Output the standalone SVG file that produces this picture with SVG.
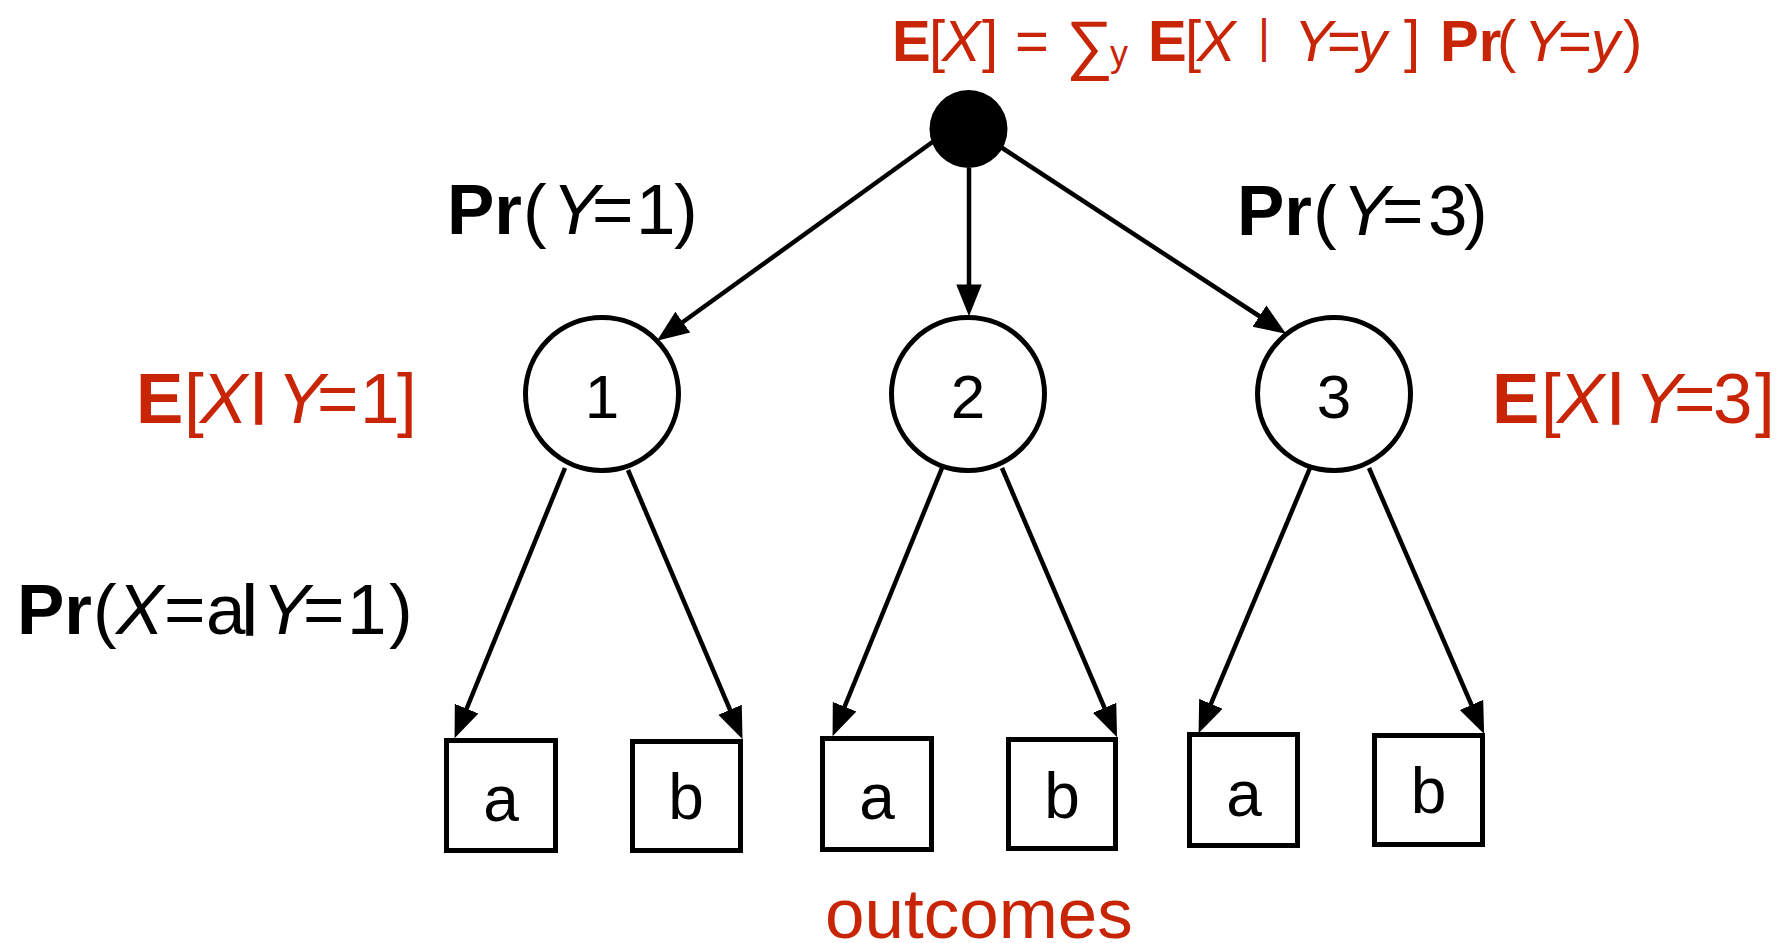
<svg xmlns="http://www.w3.org/2000/svg" width="1781" height="943" viewBox="0 0 1781 943">
  <style>
    .lbl { font-family: "Liberation Sans", Arial, sans-serif; }
    .red { fill: #C82506; }
    .blk { fill: #000000; }
    .b { font-weight: bold; }
    .i { font-style: italic; }
    .node-c { fill: #FFFFFF; stroke: #000000; stroke-width: 5; }
    .node-r { fill: #FFFFFF; stroke: #000000; stroke-width: 5; }
    .num { font-family: "Liberation Sans", Arial, sans-serif; font-size: 62px; fill: #000; text-anchor: middle; }
    .out { font-family: "Liberation Sans", Arial, sans-serif; font-size: 64px; fill: #000; text-anchor: middle; }
    .edge { fill: none; stroke: #000000; stroke-width: 4.5; marker-end: url(#arrow); }
  </style>
  <defs>
    <marker id="arrow" markerUnits="userSpaceOnUse" markerWidth="34" markerHeight="30" viewBox="0 -14 32 28" refX="10" refY="0" orient="auto">
      <path d="M0,-12 L30,0 L0,12 z" fill="#000000"/>
    </marker>
  </defs>

  <!-- connectors -->
  <g id="connectors">
    <line class="edge" x1="945" y1="133" x2="674.2" y2="328.3"/>
    <line class="edge" x1="969" y1="168" x2="969" y2="295"/>
    <line class="edge" x1="990" y1="140" x2="1268.3" y2="322"/>
    <line class="edge" x1="565" y1="468" x2="462.6" y2="718.5"/>
    <line class="edge" x1="628" y1="470" x2="734.2" y2="719.6"/>
    <line class="edge" x1="942" y1="468" x2="840.6" y2="716.5"/>
    <line class="edge" x1="1002" y1="468" x2="1108.7" y2="717.6"/>
    <line class="edge" x1="1310" y1="468" x2="1206.8" y2="713.6"/>
    <line class="edge" x1="1369" y1="468" x2="1475.7" y2="714.6"/>
  </g>

  <!-- root -->
  <g id="root">
    <circle cx="968.5" cy="129" r="39" fill="#000000"/>
  </g>

  <!-- middle level -->
  <g id="y1">
    <circle class="node-c" cx="602" cy="394" r="76.5"/>
    <text class="num" x="602" y="418">1</text>
  </g>
  <g id="y2">
    <circle class="node-c" cx="968" cy="394" r="76.5"/>
    <text class="num" x="968" y="418">2</text>
  </g>
  <g id="y3">
    <circle class="node-c" cx="1334" cy="394" r="76.5"/>
    <text class="num" x="1334" y="418">3</text>
  </g>

  <!-- outcomes -->
  <g id="y1a">
    <rect class="node-r" x="446.5" y="740.5" width="109" height="110"/>
    <text class="out" x="501" y="821">a</text>
  </g>
  <g id="y1b">
    <rect class="node-r" x="632.5" y="741.5" width="108" height="109"/>
    <text class="out" x="686" y="819">b</text>
  </g>
  <g id="y2a">
    <rect class="node-r" x="822.5" y="738.5" width="109" height="111"/>
    <text class="out" x="877" y="819">a</text>
  </g>
  <g id="y2b">
    <rect class="node-r" x="1008.5" y="739.5" width="107" height="109"/>
    <text class="out" x="1062" y="818">b</text>
  </g>
  <g id="y3a">
    <rect class="node-r" x="1189.5" y="734.5" width="108" height="111"/>
    <text class="out" x="1244" y="816">a</text>
  </g>
  <g id="y3b">
    <rect class="node-r" x="1374.5" y="735.5" width="108" height="109"/>
    <text class="out" x="1428.5" y="813">b</text>
  </g>

  <!-- annotations -->
  <g id="labels">
    <text class="lbl red" font-size="58" y="61">
      <tspan class="b" x="892">E</tspan><tspan x="929">[</tspan><tspan class="i" x="942">X</tspan><tspan x="982">]</tspan><tspan x="1015">=</tspan><tspan font-size="66" x="1066" dy="6">∑</tspan><tspan font-size="36" x="1110" dy="-1">y</tspan><tspan class="b" x="1148" dy="-5">E</tspan><tspan x="1185">[</tspan><tspan class="i" x="1197">X</tspan><tspan font-size="46" x="1258" dy="-9">|</tspan><tspan class="i" x="1294" dy="9">Y</tspan><tspan x="1327">=</tspan><tspan class="i" x="1358">y</tspan><tspan x="1404">]</tspan><tspan class="b" x="1440">Pr</tspan><tspan x="1497">(</tspan><tspan class="i" x="1524">Y</tspan><tspan x="1558">=</tspan><tspan class="i" x="1591">y</tspan><tspan x="1623">)</tspan>
    </text>

    <text class="lbl blk" font-size="71" y="234">
      <tspan class="b" x="447">Pr</tspan><tspan x="523">(</tspan><tspan class="i" x="552">Y</tspan><tspan x="592">=</tspan><tspan x="636">1</tspan><tspan x="674">)</tspan>
    </text>
    <text class="lbl blk" font-size="71" y="235">
      <tspan class="b" x="1237">Pr</tspan><tspan x="1313">(</tspan><tspan class="i" x="1342">Y</tspan><tspan x="1382">=</tspan><tspan x="1428">3</tspan><tspan x="1464">)</tspan>
    </text>

    <text class="lbl red" font-size="71" y="423">
      <tspan class="b" x="136">E</tspan><tspan x="184">[</tspan><tspan class="i" x="200">X</tspan><tspan class="b" font-size="55" x="251" dy="-11">|</tspan><tspan class="i" x="277" dy="11">Y</tspan><tspan x="317">=</tspan><tspan x="360">1</tspan><tspan x="397">]</tspan>
    </text>
    <text class="lbl red" font-size="71" y="423">
      <tspan class="b" x="1492">E</tspan><tspan x="1541">[</tspan><tspan class="i" x="1557">X</tspan><tspan class="b" font-size="55" x="1608" dy="-11">|</tspan><tspan class="i" x="1634" dy="11">Y</tspan><tspan x="1674">=</tspan><tspan x="1713">3</tspan><tspan x="1755">]</tspan>
    </text>

    <text class="lbl blk" font-size="71" y="634">
      <tspan class="b" x="17">Pr</tspan><tspan x="93">(</tspan><tspan class="i" x="116">X</tspan><tspan x="164">=</tspan><tspan x="206">a</tspan><tspan class="b" font-size="55" x="242" dy="-11">|</tspan><tspan class="i" x="262" dy="11">Y</tspan><tspan x="303">=</tspan><tspan x="347">1</tspan><tspan x="389">)</tspan>
    </text>

    <text class="lbl red" font-size="71" x="825" y="938">outcomes</text>
  </g>
</svg>
